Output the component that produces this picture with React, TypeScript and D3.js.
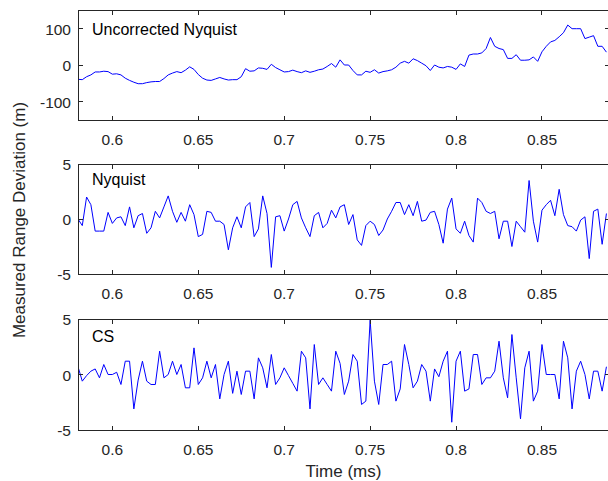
import * as d3 from 'd3';

// sample times (ms)
const T0 = 0.58;
const DT = 0.0025;

// range deviation, uncorrected Nyquist sampling (m)
const uncorrected = [
  -39, -40, -32, -27, -19, -19, -17, -18, -25, -24, -27, -36, -42, -47, -51, -51, -48, -46, -45, -45,
  -37, -27, -22, -18, -21, -14, -5, -12, -26, -36, -41, -42, -38, -34, -38, -41, -40, -40, -32, -10,
  -17, -16, -8, -9, -12, 2, -7, -13, -19, -18, -14, -18, -21, -16, -20, -17, -13, -11, -4, 4,
  -6, 14, 0, 0, -15, -27, -27, -17, -20, -13, -22, -18, -16, -13, -6, 5, 10, 5, 17, 12,
  5, -2, -15, 0, -6, -8, -4, -6, -12, 3, -4, 27, 30, 30, 33, 45, 75, 51, 45, 42,
  18, 18, 28, 13, 13, 14, 22, 10, 36, 51, 63, 67, 77, 88, 109, 99, 99, 99, 72, 76,
  80, 51, 51, 35,
];

// range deviation, corrected Nyquist (m)
const nyquist = [
  0, -0.6, 2.0, 1.3, -1.1, -1.1, -1.1, 0.6, -0.4, 0.1, 0.2, -0.6, 1.1, -0.8, 0.3, 0.5, -1.3, -0.8, 0.7, 0.1,
  1.1, 2.1, 0.7, -0.3, 0.6, -0.2, 1.3, 0.4, -1.6, -1.4, 0.7, 0.6, -0.2, -0.2, -0.5, -2.8, -0.8, 0.2, -0.8, 1.1,
  1.5, -1.6, -0.9, 2.1, 0.5, -4.4, 0.2, 0.3, -1.1, 0, 1.3, 1.6, 0.1, -0.8, -1.6, 0.3, 0.6, -0.8, -0.4, 0.8,
  0.1, 1.1, 1.3, -0.5, 0.4, -1.9, -2.4, -0.6, -0.2, -0.5, -1.5, -1.0, 0, 0.7, 1.5, 1.5, 0.4, 1.3, 0.3, 1.6,
  -0.2, -0.1, 0.6, 0.7, -0.5, -2.2, 0.9, 1.9, -0.9, -1.3, -0.2, -1.5, -2.1, 1.9, 1.5, 0.7, 0.5, 0.7, -1.8, -0.2,
  -0.2, -2.5, -0.2, -0.7, -1.2, 3.5, -0.2, -2.1, 0.8, 1.3, 1.7, 0.3, 2.7, 0.4, -0.6, -0.7, -1.1, -0.1, 0.2, -3.6,
  0.7, 0.9, -2.3, 0.5,
];

// range deviation, compressive sensing (m)
const cs = [
  0.7, -0.6, -0.1, 0.3, 0.5, -0.3, 0.9, 0, 0, 0.2, -0.9, 1.2, 1.2, -3.1, -0.5, 1.2, -0.6, -0.9, -0.9, 2.1,
  -0.3, 0, 1.2, 0, 0.9, -1.2, -1.2, 2.4, -0.9, -0.3, 1.2, -0.3, 0.9, -2.2, 0, 1.2, -1.7, 0.3, -1.8, 0.3,
  0.3, -2.2, 1.5, 0.6, -1.2, 1.8, -0.9, -0.3, 0.6, -0.1, -0.8, -1.5, 2.1, 1.5, -3.1, 2.7, -0.9, -0.3, -0.9, -1.5,
  2.1, 1.0, -1.8, -0.6, 1.8, 1.2, -2.7, -2.4, 4.9, -0.6, -2.7, 0.9, 0.9, 1.2, -2.4, -1.3, 2.7, 0.9, -1.2, -0.6,
  0.9, 0.3, -2.4, 0.5, -0.2, 1.2, 2.1, -4.3, 1.2, 2.1, -1.5, -1.3, 1.8, 1.8, -0.9, -0.3, -0.3, 0.3, 3.0, -0.3,
  -2.1, 3.6, -0.3, -4.0, 0.6, 2.1, -2.4, -1.5, 2.7, 0, 0, 0, -2.2, 3.0, 1.5, -3.1, 0.3, 1.2, 0, -2.2,
  0.3, 0.3, -1.5, 0.7,
];

const xTicks = [0.6, 0.65, 0.7, 0.75, 0.8, 0.85];
const panelLabels = ['Uncorrected Nyquist', 'Nyquist', 'CS'];
const panelDomains = [[-150, 150], [-5, 5], [-5, 5]];
const panelYTicks = [[-100, 0, 100], [-5, 0, 5], [-5, 0, 5]];
const panelSeries = [uncorrected, nyquist, cs];

const W = 608;
const H = 481;
const left = 78;
const right = 609;
const boxes = [
  { top: 10, bottom: 120, labelY: 35 },
  { top: 164, bottom: 274, labelY: 185 },
  { top: 319, bottom: 430, labelY: 342 },
];
const tickLen = 4.5;
const axisColor = '#262626';
const font = "'Liberation Sans', Arial, Helvetica, sans-serif";

const x = d3.scaleLinear().domain([0.58, 0.889]).range([left, right]);

const Panel = ({ k }: { k: number }) => {
  const { top, bottom, labelY } = boxes[k];
  const y = d3.scaleLinear().domain(panelDomains[k]).range([bottom, top]);
  const values = panelSeries[k];
  const line = d3
    .line<number>()
    .x((_, i) => x(T0 + i * DT))
    .y((d) => y(d));
  return (
    <g>
      <clipPath id={`clip${k}`}>
        <rect x={left} y={top} width={right - left} height={bottom - top} />
      </clipPath>
      <path
        d={line(values) || ''}
        fill="none"
        stroke="#0000ff"
        strokeWidth={1}
        strokeLinejoin="round"
        clipPath={`url(#clip${k})`}
      />
      <g stroke={axisColor} strokeWidth={1} shapeRendering="crispEdges">
        <rect x={left + 0.5} y={top + 0.5} width={right - left} height={bottom - top} fill="none" />
        {xTicks.map((t) => (
          <g key={t}>
            <line x1={x(t)} x2={x(t)} y1={bottom} y2={bottom - tickLen} />
            <line x1={x(t)} x2={x(t)} y1={top} y2={top + tickLen} />
          </g>
        ))}
        {panelYTicks[k].map((v) => (
          <g key={v}>
            <line x1={left} x2={left + tickLen} y1={y(v)} y2={y(v)} />
            <line x1={right} x2={right - tickLen} y1={y(v)} y2={y(v)} />
          </g>
        ))}
      </g>
      <g fill={axisColor} fontFamily={font} fontSize={15.5}>
        {xTicks.map((t) => (
          <text key={t} x={x(t)} y={bottom + 25} textAnchor="middle">
            {String(t)}
          </text>
        ))}
        {panelYTicks[k].map((v) => (
          <text key={v} x={left - 7} y={y(v)} dy="0.4em" textAnchor="end">
            {String(v)}
          </text>
        ))}
      </g>
      <text x={92} y={labelY} fill="#000" fontFamily={font} fontSize={16}>
        {panelLabels[k]}
      </text>
    </g>
  );
};

export default function App() {
  return (
    <svg
      width={W}
      height={H}
      style={{ position: 'absolute', left: 0, top: 0, background: '#fff' }}
    >
      <rect width={W} height={H} fill="#fff" />
      {boxes.map((_, k) => (
        <Panel key={k} k={k} />
      ))}
      <text
        x={(left + right) / 2}
        y={477}
        textAnchor="middle"
        fill={axisColor}
        fontFamily={font}
        fontSize={17}
      >
        Time (ms)
      </text>
      <text
        transform="translate(25,220) rotate(-90)"
        textAnchor="middle"
        fill={axisColor}
        fontFamily={font}
        fontSize={17}
      >
        Measured Range Deviation (m)
      </text>
    </svg>
  );
}
